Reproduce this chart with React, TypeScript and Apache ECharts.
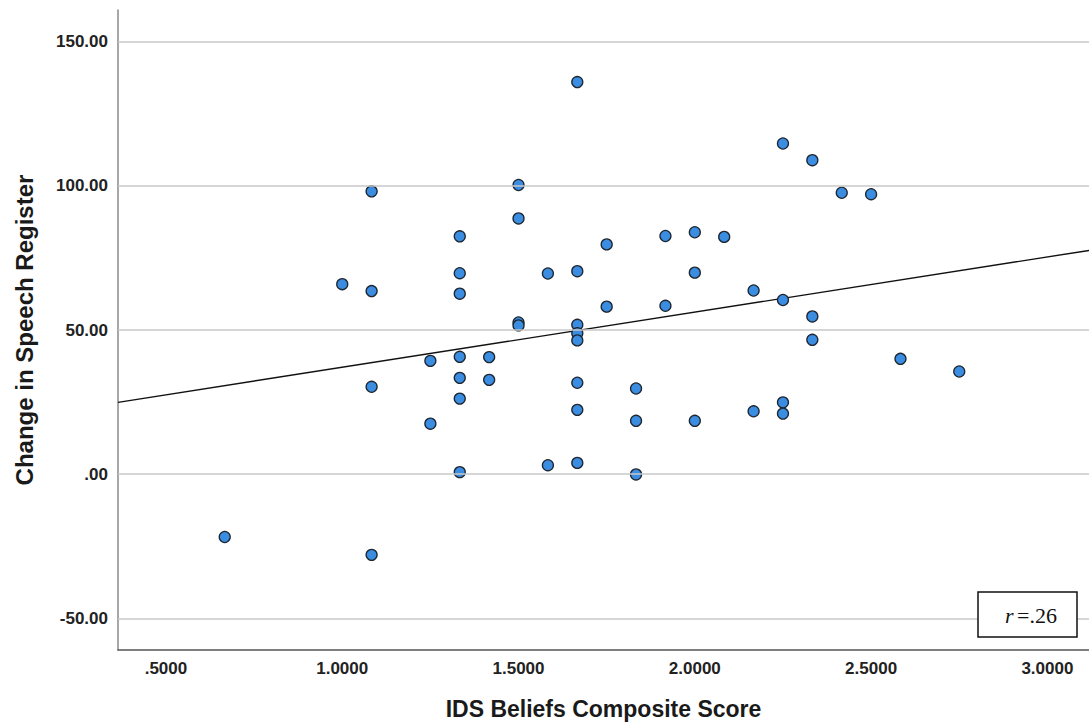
import React, { useEffect, useRef } from "react";
import * as echarts from "echarts";

// IDS Beliefs Composite Score (x) and Change in Speech Register (y)
const xValues = [
  0.6667,
  1.0,
  1.0833, 1.0833, 1.0833, 1.0833,
  1.25, 1.25,
  1.3333, 1.3333, 1.3333, 1.3333, 1.3333, 1.3333, 1.3333,
  1.4167, 1.4167,
  1.5, 1.5, 1.5, 1.5,
  1.5833, 1.5833,
  1.6667, 1.6667, 1.6667, 1.6667, 1.6667, 1.6667, 1.6667, 1.6667,
  1.75, 1.75,
  1.8333, 1.8333, 1.8333,
  1.9167, 1.9167,
  2.0, 2.0, 2.0,
  2.0833,
  2.1667, 2.1667,
  2.25, 2.25, 2.25, 2.25,
  2.3333, 2.3333, 2.3333,
  2.4167,
  2.5,
  2.5833,
  2.75,
];
const yValues = [
  -21.8,
  65.9,
  98.1, 63.5, 30.3, -28.0,
  39.3, 17.5,
  82.5, 69.7, 62.6, 40.7, 33.4, 26.2, 0.7,
  40.6, 32.7,
  100.3, 88.7, 52.6, 51.6,
  69.6, 3.1,
  136.0, 70.4, 51.8, 48.9, 46.4, 31.7, 22.3, 3.9,
  79.7, 58.1,
  29.7, 18.5, -0.1,
  82.6, 58.4,
  83.9, 69.9, 18.5,
  82.3,
  63.7, 21.8,
  114.7, 60.4, 24.9, 21.0,
  108.9, 54.7, 46.6,
  97.6,
  97.1,
  40.0,
  35.6,
];

// Fit line endpoints
const fitX = [0.364, 3.118];
const fitY = [24.9, 77.6];

const xTicks = [0.5, 1.0, 1.5, 2.0, 2.5, 3.0];
const yTicks = [-50, 0, 50, 100, 150];
const xRange = [0.364, 3.118];
const yRange = [-61, 161];
const rLabel = ".26";

export default function App() {
  const ref = useRef<HTMLDivElement>(null);
  useEffect(() => {
    if (!ref.current) return;
    const chart = echarts.init(ref.current, undefined, { renderer: "svg" });
    const font = "'Liberation Sans', Arial, Helvetica, sans-serif";
    const points = xValues.map((x, i) => [x, yValues[i]]);
    const fit = fitX.map((x, i) => [x, fitY[i]]);
    chart.setOption({
      animation: false,
      backgroundColor: "#ffffff",
      grid: { left: 118, right: 0, top: 10, bottom: 74, containLabel: false },
      xAxis: {
        type: "value",
        min: xRange[0],
        max: xRange[1],
        name: "IDS Beliefs Composite Score",
        nameLocation: "middle",
        nameGap: 47,
        nameTextStyle: { fontFamily: font, fontWeight: "bold", fontSize: 23, color: "#1a1a1a" },
        axisLine: { show: true, onZero: false, lineStyle: { color: "#555555", width: 1.5 } },
        axisTick: { show: false },
        splitLine: { show: false },
        axisLabel: {
          customValues: xTicks,
          margin: 10,
          fontFamily: font,
          fontWeight: "bold",
          fontSize: 17,
          color: "#222222",
          formatter: (v: number) => v.toFixed(4).replace(/^0/, ""),
        },
      },
      yAxis: {
        type: "value",
        min: yRange[0],
        max: yRange[1],
        name: "Change in Speech Register",
        nameLocation: "middle",
        nameGap: 82,
        nameTextStyle: { fontFamily: font, fontWeight: "bold", fontSize: 24, color: "#1a1a1a" },
        axisLine: { show: true, onZero: false, lineStyle: { color: "#8a8a8a", width: 1.5 } },
        axisTick: { show: false },
        splitLine: { show: false },
        axisLabel: {
          customValues: yTicks,
          margin: 10,
          fontFamily: font,
          fontWeight: "bold",
          fontSize: 17,
          color: "#222222",
          formatter: (v: number) => v.toFixed(2).replace(/^0/, ""),
        },
      },
      series: [
        {
          type: "line",
          data: [],
          silent: true,
          z: 1,
          markLine: {
            silent: true,
            symbol: ["none", "none"],
            label: { show: false },
            lineStyle: { color: "#c8c8c8", width: 1.5, type: "solid" },
            data: yTicks.map((v) => ({ yAxis: v })),
          },
        },
        {
          type: "line",
          data: fit,
          symbol: "none",
          silent: true,
          z: 2,
          lineStyle: { color: "#111111", width: 1.4 },
        },
        {
          type: "scatter",
          data: points,
          symbol: "circle",
          symbolSize: 11,
          z: 3,
          itemStyle: { color: "#3b8de2", borderColor: "#1e2630", borderWidth: 1.3, opacity: 1 },
        },
      ],
      graphic: [
        {
          type: "rect",
          shape: { x: 978, y: 592, width: 99, height: 45 },
          style: { fill: "#ffffff", stroke: "#111111", lineWidth: 1.5 },
          z: 100,
        },
        {
          type: "text",
          x: 1031,
          y: 615,
          z: 101,
          style: {
            text: "{i|r} {n|=" + rLabel + "}",
            align: "center",
            verticalAlign: "middle",
            rich: {
              i: { fontFamily: "'Liberation Serif', 'Times New Roman', serif", fontStyle: "italic", fontSize: 22, fill: "#111111" },
              n: { fontFamily: "'Liberation Serif', 'Times New Roman', serif", fontSize: 22, fill: "#111111" },
            },
          },
        },
      ],
    });
    return () => chart.dispose();
  }, []);
  return (
    <div
      ref={ref}
      style={{ position: "fixed", left: 0, top: 0, width: 1089, height: 725, background: "#fff" }}
    />
  );
}
